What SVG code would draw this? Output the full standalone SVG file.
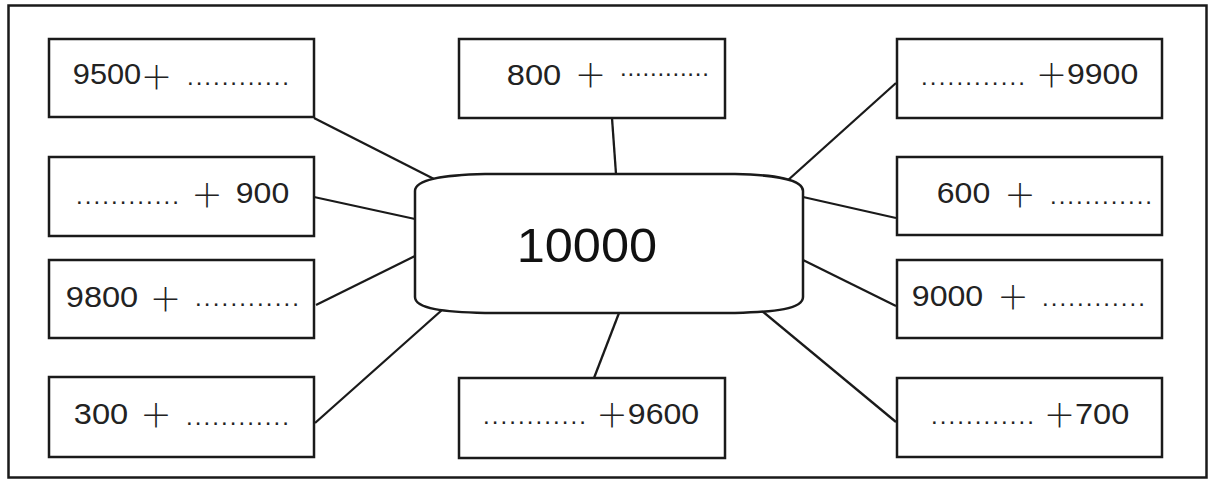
<svg xmlns="http://www.w3.org/2000/svg" width="1209" height="480" viewBox="0 0 1209 480">
<style>
.bg{fill:#fff}
.frame{fill:none;stroke:#1a1a1a;stroke-width:2.5}
.box{fill:#fff;stroke:#1a1a1a;stroke-width:2.5}
.hub{fill:#fff;stroke:#1a1a1a;stroke-width:2.5}
.c line{stroke:#1a1a1a;stroke-width:2.3}
.n{font-family:"Liberation Sans",Arial,sans-serif;font-size:29px;fill:#222}
.p{font-family:"Noto Sans CJK SC","Noto Sans",sans-serif;font-size:32px;font-weight:300;fill:#222;text-anchor:middle;dominant-baseline:central}
.d{font-family:"Liberation Sans",Arial,sans-serif;font-size:24px;fill:#222}
.big{font-family:"Liberation Sans",Arial,sans-serif;font-size:49px;fill:#111}
</style>
<rect class="bg" x="0" y="0" width="1209" height="480"/>
<rect class="frame" x="8.5" y="5.5" width="1198" height="472"/>
<g class="c" id="connectors">
<line x1="314" y1="118" x2="436" y2="180"/>
<line x1="314" y1="197" x2="415" y2="219"/>
<line x1="316" y1="305" x2="415" y2="256"/>
<line x1="315" y1="423" x2="442" y2="310"/>
<line x1="612" y1="118" x2="616" y2="174"/>
<line x1="594" y1="378" x2="619" y2="313"/>
<line x1="896" y1="83" x2="787" y2="181"/>
<line x1="803" y1="197" x2="896" y2="218"/>
<line x1="803" y1="260" x2="896" y2="306"/>
<line x1="762" y1="311" x2="896" y2="422"/>
</g>
<g id="hub">
<path class="hub" d="M415,191 C415,179 445,175 485,174 L735,174 C775,175 803,179 803,191 L803,297 C803,309 775,312 735,313 L485,313 C445,312 415,309 415,297 Z"/>
<text class="big" x="516.7" y="262" textLength="140.4" lengthAdjust="spacingAndGlyphs">10000</text>
</g>
<g id="n-l1">
<rect class="box" x="49" y="39" width="265" height="78"/>
<text class="n" x="72.8" y="84" textLength="68.4" lengthAdjust="spacingAndGlyphs">9500</text>
<text class="p" x="156.5" y="75">＋</text>
<text class="d" x="187" y="84.5" textLength="102" lengthAdjust="spacing">............</text>
</g>
<g id="n-l2">
<rect class="box" x="49" y="157" width="265" height="79"/>
<text class="d" x="76" y="203.5" textLength="103" lengthAdjust="spacing">............</text>
<text class="p" x="207" y="193">＋</text>
<text class="n" x="235.8" y="203" textLength="53.4" lengthAdjust="spacingAndGlyphs">900</text>
</g>
<g id="n-l3">
<rect class="box" x="49" y="260" width="265" height="78"/>
<text class="n" x="65.8" y="307" textLength="72.4" lengthAdjust="spacingAndGlyphs">9800</text>
<text class="p" x="165.5" y="297">＋</text>
<text class="d" x="195" y="305.5" textLength="104" lengthAdjust="spacing">............</text>
</g>
<g id="n-l4">
<rect class="box" x="49" y="377" width="265" height="80"/>
<text class="n" x="73.8" y="424" textLength="54.4" lengthAdjust="spacingAndGlyphs">300</text>
<text class="p" x="156" y="413">＋</text>
<text class="d" x="186" y="424.5" textLength="103" lengthAdjust="spacing">............</text>
</g>
<g id="n-t">
<rect class="box" x="459" y="39" width="266" height="79"/>
<text class="n" x="506.8" y="85" textLength="54.4" lengthAdjust="spacingAndGlyphs">800</text>
<text class="p" x="590.5" y="73">＋</text>
<text class="d" x="620" y="75.5" textLength="89" lengthAdjust="spacing">............</text>
</g>
<g id="n-b">
<rect class="box" x="459" y="378" width="266" height="80"/>
<text class="d" x="483" y="423.5" textLength="103" lengthAdjust="spacing">............</text>
<text class="p" x="612" y="413">＋</text>
<text class="n" x="627.8" y="424" textLength="71.4" lengthAdjust="spacingAndGlyphs">9600</text>
</g>
<g id="n-r1">
<rect class="box" x="897" y="39" width="265" height="79"/>
<text class="d" x="921" y="84.5" textLength="104" lengthAdjust="spacing">............</text>
<text class="p" x="1051.5" y="73">＋</text>
<text class="n" x="1067" y="84" textLength="71.2" lengthAdjust="spacingAndGlyphs">9900</text>
</g>
<g id="n-r2">
<rect class="box" x="897" y="157" width="265" height="78"/>
<text class="n" x="936.8" y="203" textLength="53.4" lengthAdjust="spacingAndGlyphs">600</text>
<text class="p" x="1020" y="193">＋</text>
<text class="d" x="1050" y="203.5" textLength="102" lengthAdjust="spacing">............</text>
</g>
<g id="n-r3">
<rect class="box" x="897" y="260" width="265" height="78"/>
<text class="n" x="911.8" y="306" textLength="71.4" lengthAdjust="spacingAndGlyphs">9000</text>
<text class="p" x="1013" y="295">＋</text>
<text class="d" x="1042" y="305.5" textLength="103" lengthAdjust="spacing">............</text>
</g>
<g id="n-r4">
<rect class="box" x="897" y="378" width="265" height="79"/>
<text class="d" x="931" y="423.5" textLength="103" lengthAdjust="spacing">............</text>
<text class="p" x="1059.5" y="413">＋</text>
<text class="n" x="1075" y="424" textLength="54.2" lengthAdjust="spacingAndGlyphs">700</text>
</g>
</svg>
